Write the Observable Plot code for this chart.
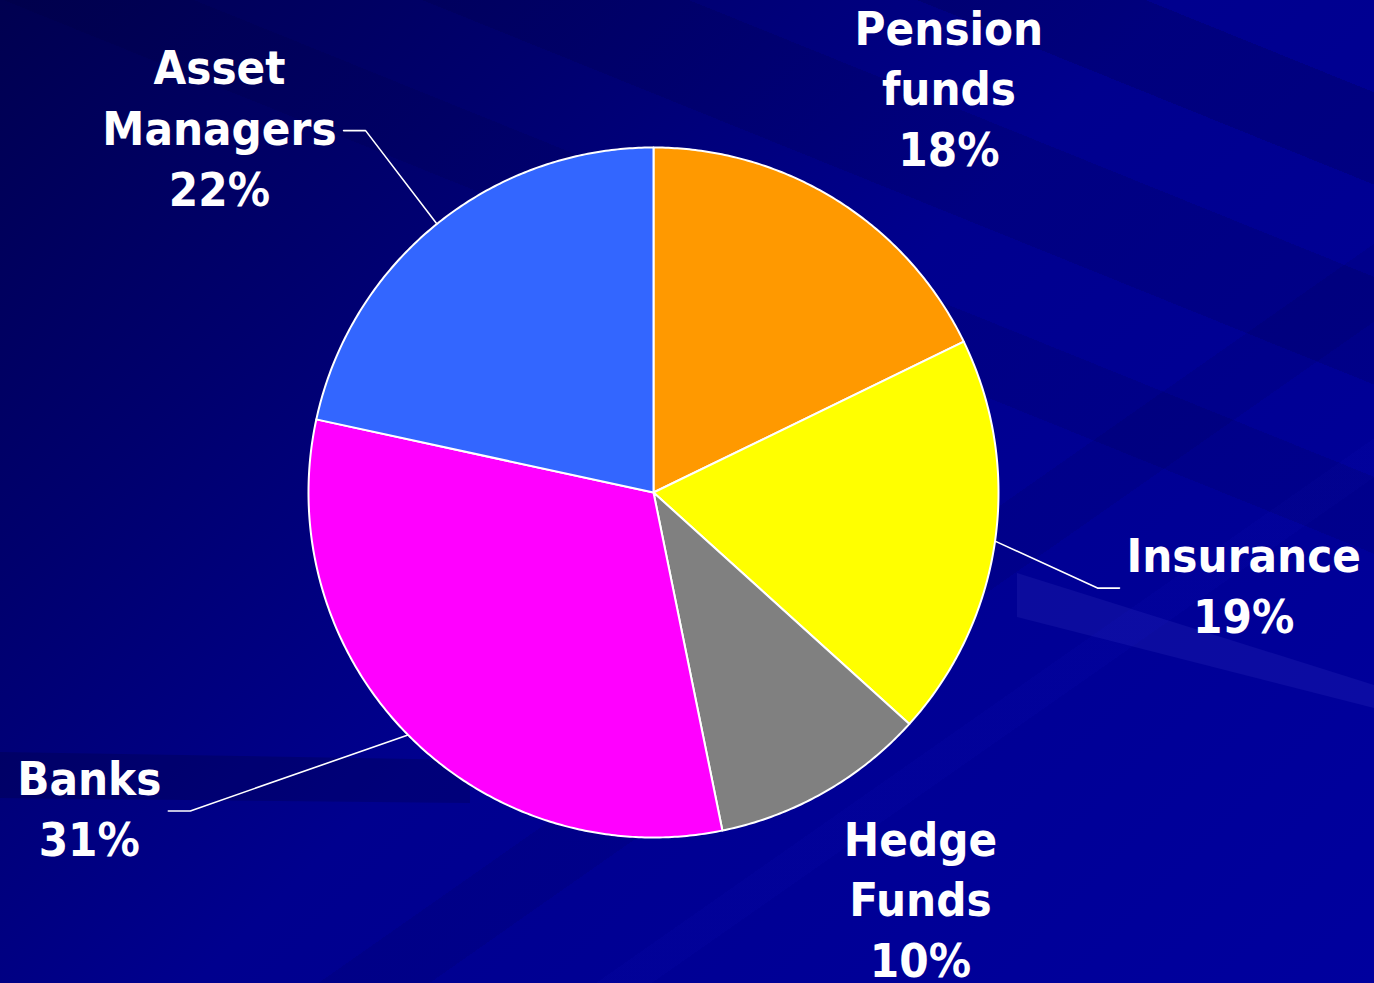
<!DOCTYPE html>
<html><head><meta charset="utf-8">
<script src="https://cdn.jsdelivr.net/npm/d3@7"></script>
<script src="https://cdn.jsdelivr.net/npm/@observablehq/plot@0.6"></script>
<style>
html,body{margin:0;padding:0;width:1374px;height:983px;overflow:hidden;position:relative;}
body{
  background:
    linear-gradient(202deg, rgba(0,0,0,0) 0%, rgba(0,0,0,0) 6%, rgba(0,0,40,0.16) 6%, rgba(0,0,40,0.16) 12%, rgba(0,0,0,0) 12%, rgba(0,0,0,0) 18%, rgba(0,0,40,0.12) 18%, rgba(0,0,40,0.12) 25%, rgba(0,0,0,0) 25%, rgba(0,0,0,0) 31%, rgba(0,0,40,0.10) 31%, rgba(0,0,40,0.10) 36%, rgba(0,0,0,0) 36%),
    linear-gradient(145deg, rgba(0,0,0,0) 0%, rgba(0,0,0,0) 62%, rgba(0,0,60,0.10) 62%, rgba(0,0,60,0.10) 66%, rgba(0,0,0,0) 66%, rgba(0,0,0,0) 72%, rgba(20,20,200,0.08) 72%, rgba(20,20,200,0.08) 74%, rgba(0,0,0,0) 74%),
    linear-gradient(135deg, #000050 0%, #00006E 25%, #00008E 50%, #000096 75%, #00009E 100%);
}
.ray{position:absolute;left:0;top:0;width:1374px;height:983px;pointer-events:none;}
#ray1{background:rgba(130,130,255,0.09);clip-path:polygon(1017px 573px,1374px 685px,1374px 708px,1017px 617px);}
#ray2{background:rgba(0,0,30,0.18);clip-path:polygon(0px 752px,470px 760px,470px 803px,0px 798px);}
svg{display:block;position:relative;}
</style></head><body>
<div class="ray" id="ray1"></div><div class="ray" id="ray2"></div>
<script>
// ---- data ----
const categories = ["Pension funds", "Insurance", "Hedge Funds", "Banks", "Asset Managers"];
const labelLines = [["Pension", "funds"], ["Insurance"], ["Hedge", "Funds"], ["Banks"], ["Asset", "Managers"]];
const shares = [17.8, 18.9, 10.1, 31.6, 21.6];   // slice sizes
const shareLabels = ["18%", "19%", "10%", "31%", "22%"];
const colors = ["#FF9900", "#FFFF00", "#808080", "#FF00FF", "#3366FF"];
const hasLeader = [false, true, false, true, true];

// ---- layout ----
const W = 1374, H = 983, R = 345, CX = 653, CY = 492;
const FONT_SIZE = 47, LINE_H = 1.29;
const FONT = "'DejaVu Sans Condensed', 'DejaVu Sans', Verdana, sans-serif";
// label placement: [angle shift from slice mid (deg), distance in radii]
const labelPlace = [[4.3, 1.445], [1.1, 1.733], [-3.4, 1.417], [15.2, 1.878], [-11.3, 1.638]];
const TEXT_DY = -5;

const pie = d3.pie().sort(null).value(d => d)(shares);
const toXY = (a, r) => [r * Math.sin(a), r * Math.cos(a)];

// slices
const slicePts = [];
pie.forEach((p, i) => {
  const cat = categories[i];
  slicePts.push({cat, x: 0, y: 0});
  const steps = Math.max(8, Math.ceil((p.endAngle - p.startAngle) / (Math.PI / 360)));
  for (let k = 0; k <= steps; k++) {
    const a = p.startAngle + (p.endAngle - p.startAngle) * k / steps;
    const [x, y] = toXY(a, 1);
    slicePts.push({cat, x, y});
  }
  slicePts.push({cat, x: 0, y: 0});
});

// text measurement
const ctx = document.createElement("canvas").getContext("2d");
ctx.font = `bold ${FONT_SIZE}px ${FONT}`;
try { ctx.fontStretch = "condensed"; } catch (e) {}

const labels = [];
const leaders = [];
pie.forEach((p, i) => {
  const mid = (p.startAngle + p.endAngle) / 2;
  const [shift, dist] = labelPlace[i];
  const [lx, ly] = toXY(mid + shift * Math.PI / 180, dist);
  const lines = [...labelLines[i], shareLabels[i]];
  labels.push({text: lines.join("\n"), x: lx, y: ly});
  if (hasLeader[i]) {
    const halfW = d3.max(lines, s => ctx.measureText(s).width) / 2 / R;
    const side = lx > 0 ? -1 : 1;
    const x0 = lx + side * (halfW + 7 / R);
    const x1 = x0 + side * 22 / R;
    const [ex, ey] = toXY(mid, 1);
    leaders.push({cat: categories[i], x: x0, y: ly});
    leaders.push({cat: categories[i], x: x1, y: ly});
    leaders.push({cat: categories[i], x: ex, y: ey});
  }
});

const chart = Plot.plot({
  width: W, height: H,
  margin: 0,
  x: {domain: [-CX / R, (W - CX) / R], axis: null},
  y: {domain: [-(H - CY) / R, CY / R], axis: null},
  color: {domain: categories, range: colors},
  style: {background: "transparent", overflow: "visible", fontStretch: "condensed"},
  marks: [
    Plot.line(leaders, {x: "x", y: "y", z: "cat", stroke: "white", strokeWidth: 1.6, curve: "linear"}),
    Plot.line(slicePts, {x: "x", y: "y", z: "cat", fill: "cat", stroke: "white", strokeWidth: 2, strokeLinejoin: "round", curve: "linear"}),
    Plot.text(labels, {x: "x", y: "y", text: "text", fill: "white", fontSize: FONT_SIZE, fontWeight: "bold",
      fontFamily: FONT, lineHeight: LINE_H, lineAnchor: "middle", textAnchor: "middle", dy: TEXT_DY})
  ]
});
document.body.appendChild(chart);
</script>
</body></html>
